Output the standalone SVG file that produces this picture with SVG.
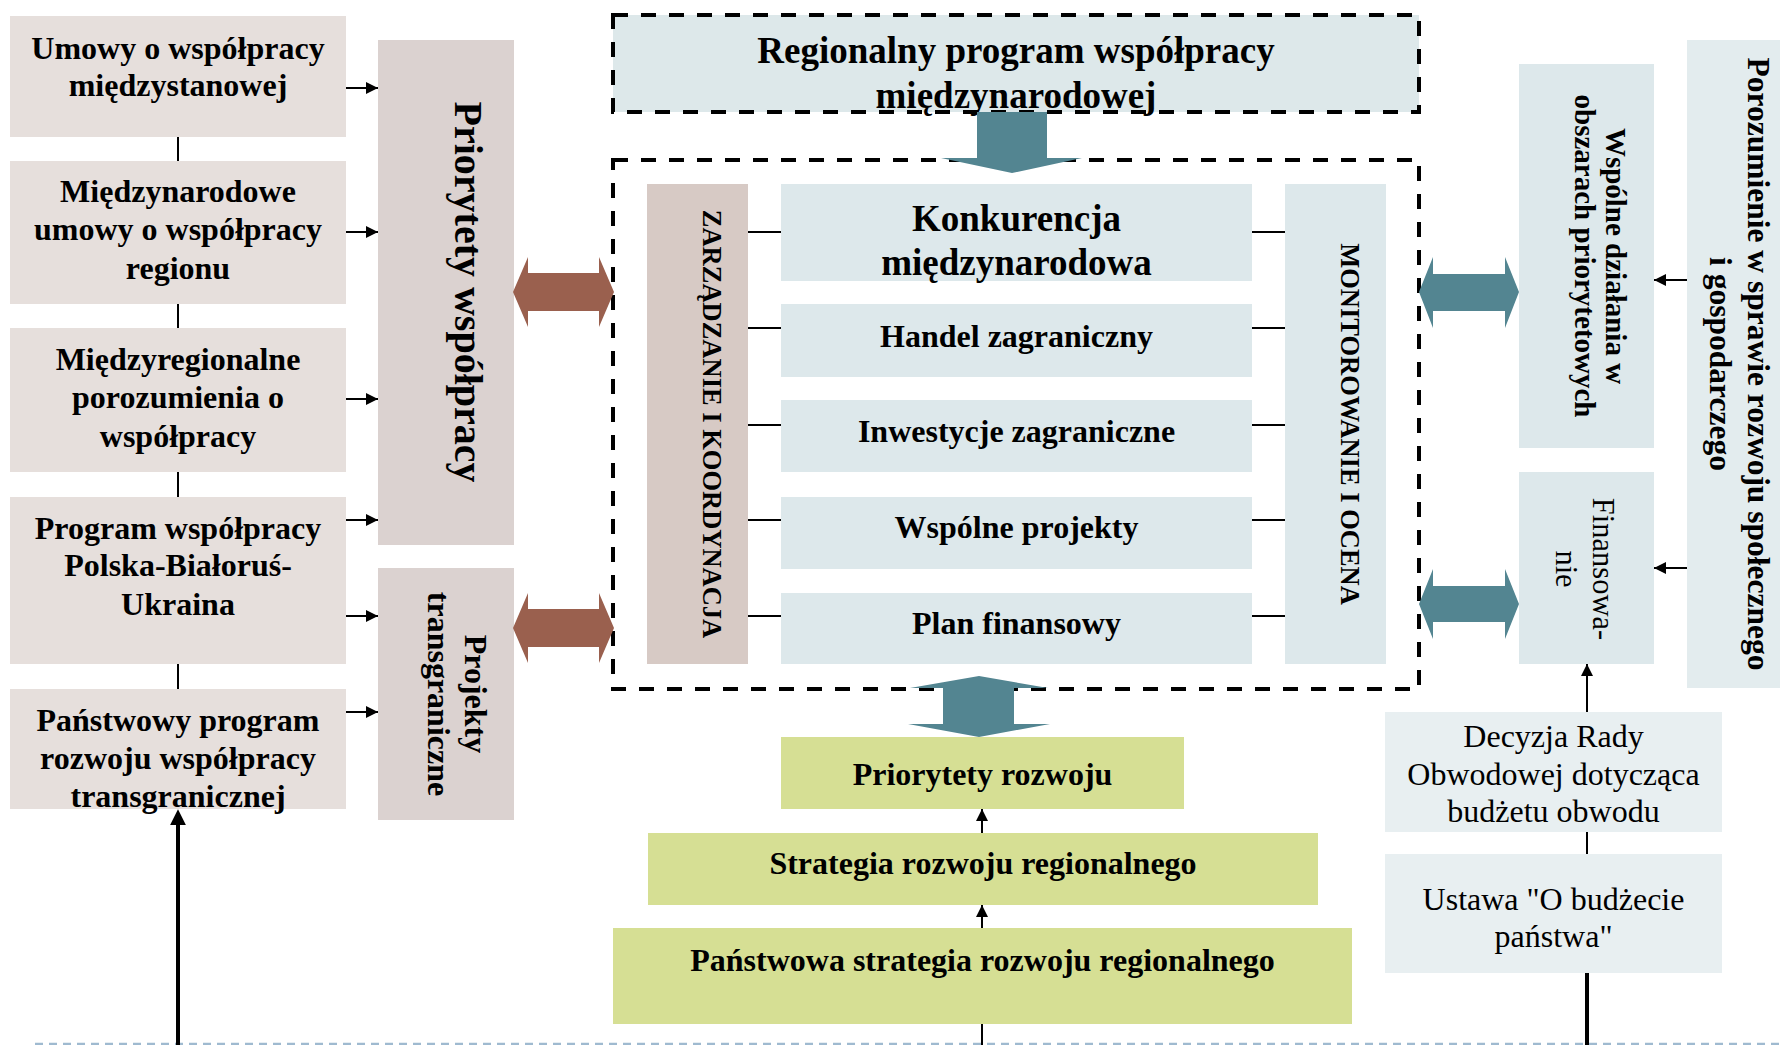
<svg xmlns="http://www.w3.org/2000/svg" width="1780" height="1045" viewBox="0 0 1780 1045">
<style>
text{font-family:"Liberation Serif","Times New Roman",serif;fill:#000}
.b{font-weight:bold}
.c{text-anchor:middle}
.f32{font-size:32px}
.f37{font-size:37px}
.pkl{fill:#e6dfdc}
.pk{fill:#dbd2d0}
.pk2{fill:#d7cac5}
.bl{fill:#dde8eb}
.bll{fill:#e8eff1}
.gr{fill:#d6df94}
.teal{fill:#538591}
.brown{fill:#9a604e}
.ln{stroke:#000;stroke-width:2;fill:none}
.thick{stroke:#000;stroke-width:4;fill:none}
.dash{stroke:#000;stroke-width:4;stroke-dasharray:15 13}
</style>
<defs>
<marker id="ah" viewBox="0 0 10 10" refX="10" refY="5" markerWidth="14" markerHeight="12" markerUnits="userSpaceOnUse" orient="auto"><path d="M0,0 L10,5 L0,10 z" fill="#000"/></marker>
<marker id="ahBig" viewBox="0 0 10 10" refX="2" refY="5" markerWidth="16" markerHeight="16" markerUnits="userSpaceOnUse" orient="auto"><path d="M0,0 L10,5 L0,10 z" fill="#000"/></marker>
</defs>

<!-- bottom dashed baseline -->
<line x1="35" y1="1044" x2="1780" y2="1044" stroke="#9fbad0" stroke-width="2.5" stroke-dasharray="8 6"/>

<!-- Left column -->
<g id="umowy-miedzystanowe">
<rect class="pkl" x="10" y="16" width="336" height="121"/>
<text class="b c f32" x="178" y="59">Umowy o współpracy</text>
<text class="b c f32" x="178" y="96">międzystanowej</text>
</g>
<g id="umowy-regionu">
<rect class="pkl" x="10" y="161" width="336" height="143"/>
<text class="b c f32" x="178" y="202">Międzynarodowe</text>
<text class="b c f32" x="178" y="240">umowy o współpracy</text>
<text class="b c f32" x="178" y="279">regionu</text>
</g>
<g id="porozumienia-miedzyregionalne">
<rect class="pkl" x="10" y="328" width="336" height="144"/>
<text class="b c f32" x="178" y="370">Międzyregionalne</text>
<text class="b c f32" x="178" y="408">porozumienia o</text>
<text class="b c f32" x="178" y="447">współpracy</text>
</g>
<g id="program-pbu">
<rect class="pkl" x="10" y="497" width="336" height="167"/>
<text class="b c f32" x="178" y="539">Program współpracy</text>
<text class="b c f32" x="178" y="576">Polska-Białoruś-</text>
<text class="b c f32" x="178" y="615">Ukraina</text>
</g>
<g id="program-transgraniczny">
<rect class="pkl" x="10" y="689" width="336" height="120"/>
<text class="b c f32" x="178" y="731">Państwowy program</text>
<text class="b c f32" x="178" y="769">rozwoju współpracy</text>
<text class="b c f32" x="178" y="807">transgranicznej</text>
</g>

<g id="priorytety-wspolpracy">
<rect class="pk" x="378" y="40" width="136" height="505"/>
<text class="b c" font-size="40" transform="translate(455,292) rotate(90)">Priorytety współpracy</text>
</g>
<g id="projekty-transgraniczne">
<rect class="pk" x="378" y="568" width="136" height="252"/>
<text class="b c f32" transform="translate(465,694) rotate(90)">Projekty</text>
<text class="b c f32" transform="translate(428,694) rotate(90)">transgraniczne</text>
</g>

<!-- Center -->
<g id="regionalny-program">
<rect x="613" y="15" width="806" height="97" fill="#dde8ea"/>
<rect x="613" y="15" width="806" height="97" fill="none" class="dash"/>
<text class="b c f37" x="1016" y="63">Regionalny program współpracy</text>
<text class="b c f37" x="1016" y="108">międzynarodowej</text>
</g>

<g id="obszar-dzialan">
<rect x="613" y="160" width="806" height="529" fill="none" class="dash"/>
</g>

<g id="zarzadzanie">
<rect class="pk2" x="647" y="184" width="101" height="480"/>
<text class="b c" font-size="26.5" transform="translate(703,424) rotate(90)">ZARZĄDZANIE I KOORDYNACJA</text>
</g>
<g id="monitorowanie">
<rect class="bl" x="1285" y="184" width="101" height="480"/>
<text class="b c" font-size="26.5" transform="translate(1341,424) rotate(90)">MONITOROWANIE I OCENA</text>
</g>
<g id="konkurencja">
<rect class="bl" x="781" y="184" width="471" height="97"/>
<text class="b c f37" x="1016.5" y="231">Konkurencja</text>
<text class="b c f37" x="1016.5" y="275">międzynarodowa</text>
</g>
<g id="handel">
<rect class="bl" x="781" y="304" width="471" height="73"/>
<text class="b c f32" x="1016.5" y="347">Handel zagraniczny</text>
</g>
<g id="inwestycje">
<rect class="bl" x="781" y="400" width="471" height="72"/>
<text class="b c f32" x="1016.5" y="442">Inwestycje zagraniczne</text>
</g>
<g id="wspolne-projekty">
<rect class="bl" x="781" y="497" width="471" height="72"/>
<text class="b c f32" x="1016.5" y="538">Wspólne projekty</text>
</g>
<g id="plan-finansowy">
<rect class="bl" x="781" y="593" width="471" height="71"/>
<text class="b c f32" x="1016.5" y="634">Plan finansowy</text>
</g>

<g id="priorytety-rozwoju">
<rect class="gr" x="781" y="737" width="403" height="72"/>
<text class="b c f32" x="982.5" y="785">Priorytety rozwoju</text>
</g>
<g id="strategia-regionalna">
<rect class="gr" x="648" y="833" width="670" height="72"/>
<text class="b c f32" x="983" y="874">Strategia rozwoju regionalnego</text>
</g>
<g id="strategia-panstwowa">
<rect class="gr" x="613" y="928" width="739" height="96"/>
<text class="b c f32" x="982.5" y="971">Państwowa strategia rozwoju regionalnego</text>
</g>

<!-- Right -->
<g id="wspolne-dzialania">
<rect class="bl" x="1519" y="64" width="135" height="384"/>
<text class="b c" font-size="29" transform="translate(1606,256) rotate(90)">Wspólne działania w</text>
<text class="b c" font-size="29" transform="translate(1575,256) rotate(90)">obszarach priorytetowych</text>
</g>
<g id="finansowanie">
<rect class="bl" x="1519" y="472" width="135" height="192"/>
<text class="c" font-size="30.5" transform="translate(1593,569) rotate(90)">Finansowa-</text>
<text class="c" font-size="30.5" transform="translate(1556,569) rotate(90)">nie</text>
</g>
<g id="porozumienie">
<rect x="1687" y="40" width="93" height="648" fill="#e3ecee"/>
<text class="b c" font-size="31.5" transform="translate(1748,364) rotate(90)">Porozumienie w sprawie rozwoju społecznego</text>
<text class="b c" font-size="31.5" transform="translate(1710,364) rotate(90)">i gospodarczego</text>
</g>
<g id="decyzja-rady">
<rect class="bll" x="1385" y="712" width="337" height="120"/>
<text class="c f32" x="1553.5" y="747">Decyzja Rady</text>
<text class="c f32" x="1553.5" y="785">Obwodowej dotycząca</text>
<text class="c f32" x="1553.5" y="822">budżetu obwodu</text>
</g>
<g id="ustawa">
<rect class="bll" x="1385" y="854" width="337" height="119"/>
<text class="c f32" x="1553.5" y="910">Ustawa "O budżecie</text>
<text class="c f32" x="1553.5" y="947">państwa"</text>
</g>

<!-- Connectors -->
<g id="connectors">
<line class="ln" x1="178" y1="137" x2="178" y2="161"/>
<line class="ln" x1="178" y1="304" x2="178" y2="328"/>
<line class="ln" x1="178" y1="472" x2="178" y2="497"/>
<line class="ln" x1="178" y1="664" x2="178" y2="689"/>
<line class="ln" x1="346" y1="88" x2="378" y2="88" marker-end="url(#ah)"/>
<line class="ln" x1="346" y1="232" x2="378" y2="232" marker-end="url(#ah)"/>
<line class="ln" x1="346" y1="399" x2="378" y2="399" marker-end="url(#ah)"/>
<line class="ln" x1="346" y1="520" x2="378" y2="520" marker-end="url(#ah)"/>
<line class="ln" x1="346" y1="616" x2="378" y2="616" marker-end="url(#ah)"/>
<line class="ln" x1="346" y1="712" x2="378" y2="712" marker-end="url(#ah)"/>
<line class="thick" x1="178" y1="1045" x2="178" y2="822" marker-end="url(#ahBig)"/>
<path class="brown" d="M513,292 L528,257 L528,273 L599,273 L599,257 L614,292 L599,327 L599,311 L528,311 L528,327 Z"/>
<path class="brown" d="M513,628 L528,593 L528,609 L599,609 L599,593 L614,628 L599,663 L599,647 L528,647 L528,663 Z"/>
<path class="teal" d="M977,112 L1047,112 L1047,158 L1082,158 L1012,173 L941,158 L977,158 Z"/>
<line class="ln" x1="748" y1="232" x2="781" y2="232"/>
<line class="ln" x1="748" y1="328" x2="781" y2="328"/>
<line class="ln" x1="748" y1="425" x2="781" y2="425"/>
<line class="ln" x1="748" y1="520" x2="781" y2="520"/>
<line class="ln" x1="748" y1="616" x2="781" y2="616"/>
<line class="ln" x1="1252" y1="232" x2="1285" y2="232"/>
<line class="ln" x1="1252" y1="328" x2="1285" y2="328"/>
<line class="ln" x1="1252" y1="425" x2="1285" y2="425"/>
<line class="ln" x1="1252" y1="520" x2="1285" y2="520"/>
<line class="ln" x1="1252" y1="616" x2="1285" y2="616"/>
<path class="teal" d="M979,676 L1048,688 L1014,688 L1014,724 L1050,724 L979,737 L908,724 L943,724 L943,688 L910,688 Z"/>
<line class="ln" x1="982" y1="833" x2="982" y2="809" marker-end="url(#ah)"/>
<line class="ln" x1="982" y1="928" x2="982" y2="905" marker-end="url(#ah)"/>
<line class="ln" x1="982" y1="1024" x2="982" y2="1045"/>
<path class="teal" d="M1419,292 L1433,257 L1433,274 L1505,274 L1505,257 L1519,292 L1505,328 L1505,311 L1433,311 L1433,328 Z"/>
<path class="teal" d="M1419,604 L1433,569 L1433,586 L1505,586 L1505,569 L1519,604 L1505,639 L1505,622 L1433,622 L1433,639 Z"/>
<line class="ln" x1="1687" y1="280" x2="1654" y2="280" marker-end="url(#ah)"/>
<line class="ln" x1="1687" y1="568" x2="1654" y2="568" marker-end="url(#ah)"/>
<line class="ln" x1="1587" y1="712" x2="1587" y2="664" marker-end="url(#ah)"/>
<line class="ln" x1="1587" y1="832" x2="1587" y2="854"/>
<line class="thick" x1="1587" y1="973" x2="1587" y2="1045"/>
</g>
</svg>
